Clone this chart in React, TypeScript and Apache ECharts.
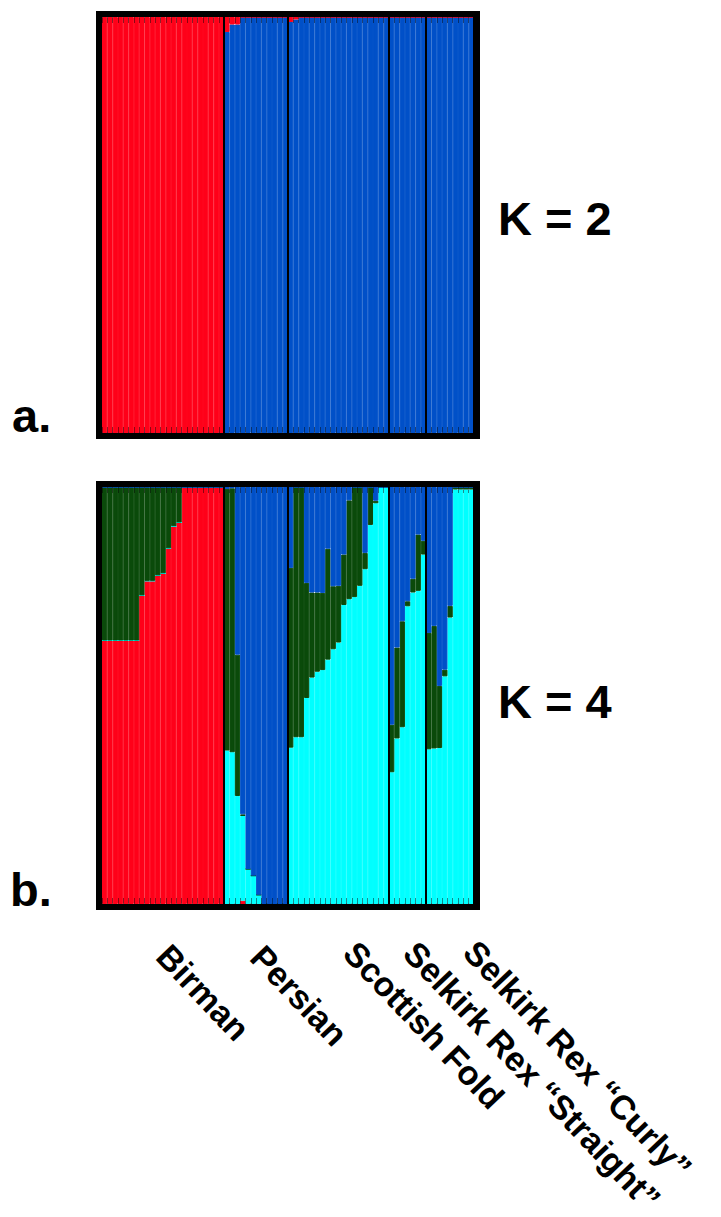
import React, { useEffect, useRef } from "react";
import * as echarts from "echarts";

// ---------- data ----------
const groups = ["Birman", "Persian", "Scottish Fold", "Selkirk Rex “Straight”", "Selkirk Rex “Curly”"];
const groupSizes = [23, 12, 19, 7, 9];

// K = 2 memberships (cluster order bottom -> top: blue, red)
const k2Blue = [
  0, 0, 0, 0, 0, 0, 0, 0, 0, 0, 0, 0, 0, 0, 0, 0, 0, 0, 0, 0, 0, 0, 0,
  0.964, 0.982, 0.982, 1, 1, 1, 1, 1, 1, 1, 1, 1,
  0.988, 0.994, 1, 1, 1, 1, 1, 1, 1, 1, 1, 1, 1, 1, 1, 1, 1, 1, 1,
  1, 1, 1, 1, 1, 1, 1,
  1, 1, 1, 1, 1, 1, 1, 1, 1,
];
const k2Red = [
  1, 1, 1, 1, 1, 1, 1, 1, 1, 1, 1, 1, 1, 1, 1, 1, 1, 1, 1, 1, 1, 1, 1,
  0.036, 0.018, 0.018, 0, 0, 0, 0, 0, 0, 0, 0, 0,
  0.012, 0.006, 0, 0, 0, 0, 0, 0, 0, 0, 0, 0, 0, 0, 0, 0, 0, 0, 0,
  0, 0, 0, 0, 0, 0, 0,
  0, 0, 0, 0, 0, 0, 0, 0, 0,
];

// K = 4 memberships (cluster order bottom -> top: red, cyan, green, blue)
const k4Red = [
  0.632, 0.632, 0.632, 0.632, 0.632, 0.632, 0.632, 0.74, 0.775, 0.775, 0.788, 0.793, 0.853, 0.906, 0.915, 1, 1, 1, 1, 1, 1, 1, 1,
  0, 0, 0, 0.008, 0, 0, 0, 0, 0, 0, 0, 0,
  0, 0, 0, 0, 0, 0, 0, 0, 0, 0, 0, 0, 0, 0, 0, 0, 0, 0, 0,
  0, 0, 0, 0, 0, 0, 0,
  0, 0, 0, 0, 0, 0, 0, 0, 0,
];
const k4Cyan = [
  0, 0, 0, 0, 0, 0, 0, 0, 0, 0, 0, 0, 0, 0, 0, 0, 0, 0, 0, 0, 0, 0, 0,
  0.368, 0.364, 0.259, 0.203, 0.084, 0.068, 0.022, 0, 0, 0, 0, 0,
  0.375, 0.4, 0.4, 0.494, 0.543, 0.557, 0.561, 0.586, 0.611, 0.627, 0.717, 0.731, 0.736, 0.763, 0.803, 0.909, 0.961, 1, 1,
  0.316, 0.397, 0.424, 0.714, 0.747, 0.751, 0.838,
  0.371, 0.373, 0.374, 0.546, 0.687, 0.994, 0.994, 0.994, 0.994,
];
const k4Green = [
  0.368, 0.368, 0.368, 0.368, 0.368, 0.368, 0.368, 0.26, 0.225, 0.225, 0.212, 0.207, 0.147, 0.094, 0.085, 0, 0, 0, 0, 0, 0, 0, 0,
  0.627, 0.633, 0.339, 0.004, 0, 0, 0, 0, 0, 0, 0, 0,
  0.431, 0.6, 0.6, 0.276, 0.204, 0.19, 0.185, 0.266, 0.151, 0.136, 0.121, 0.237, 0.264, 0.237, 0.039, 0.091, 0.006, 0, 0,
  0.114, 0.218, 0.254, 0.012, 0.033, 0.135, 0.033,
  0.279, 0.294, 0.149, 0.016, 0.028, 0.006, 0.006, 0.006, 0.006,
];
const k4Blue = [
  0, 0, 0, 0, 0, 0, 0, 0, 0, 0, 0, 0, 0, 0, 0, 0, 0, 0, 0, 0, 0, 0, 0,
  0.005, 0.003, 0.402, 0.785, 0.916, 0.932, 0.978, 1, 1, 1, 1, 1,
  0.194, 0, 0, 0.23, 0.253, 0.253, 0.254, 0.148, 0.238, 0.237, 0.162, 0.032, 0, 0, 0.158, 0, 0.033, 0, 0,
  0.57, 0.385, 0.322, 0.274, 0.22, 0.114, 0.129,
  0.35, 0.333, 0.477, 0.438, 0.285, 0, 0, 0, 0,
];

const panelLabels = ["a.", "b."];
const kLabels = ["K = 2", "K = 4"];

// ---------- derived ----------
const individuals: string[] = [];
groupSizes.forEach((n, g) => {
  for (let k = 1; k <= n; k++) individuals.push(groups[g] + " " + k);
});
const boundaries: number[] = [];
{
  let acc = 0;
  for (let g = 0; g < groupSizes.length - 1; g++) {
    acc += groupSizes[g];
    boundaries.push(acc);
  }
}

// ---------- layout / style ----------
const COLORS = { red: "#FF0019", blue: "#0050C8", green: "#0A4A0A", cyan: "#00FFFF" };
const GRID_LEFT = 102;
const GRID_WIDTH = 372;
const GRIDS = [
  { top: 17, height: 416 },
  { top: 487, height: 417 },
];
const FRAME_W = 6;
const kLabelPos = [
  { x: 498, y: 218 },
  { x: 498, y: 701 },
];
const panelLabelPos = [
  { x: 12, y: 415 },
  { x: 10, y: 889 },
];
const groupLabelPos = [
  { x: 163, y: 950 },
  { x: 257, y: 951 },
  { x: 350, y: 947 },
  { x: 410, y: 947 },
  { x: 470, y: 946 },
];
const GROUP_LABEL_ANGLE = -46.5;

function makeXAxes(gridIndex: number) {
  const base = {
    type: "category" as const,
    gridIndex,
    data: individuals,
    boundaryGap: true,
    z: 5,
    axisLine: { show: false },
    axisLabel: { show: false },
    axisTick: {
      show: true,
      inside: true,
      length: 6,
      interval: 0,
      lineStyle: { color: "rgba(0,0,0,0.45)", width: 1 },
    },
  };
  return [
    {
      ...base,
      position: "bottom",
      splitLine: {
        show: true,
        interval: (i: number) => boundaries.indexOf(i) >= 0,
        lineStyle: { color: "#000", width: 2 },
      },
    },
    { ...base, position: "top", splitLine: { show: false } },
  ];
}

function barSeries(name: string, data: number[], color: string, xAxisIndex: number, yAxisIndex: number, stack: string) {
  return {
    name,
    type: "bar",
    stack,
    data,
    xAxisIndex,
    yAxisIndex,
    barCategoryGap: "0%",
    itemStyle: { color, borderColor: color, borderWidth: 1 },
    emphasis: { disabled: true },
    silent: true,
  };
}

export default function App() {
  const ref = useRef<HTMLDivElement>(null);
  useEffect(() => {
    if (!ref.current) return;
    const chart = echarts.init(ref.current, null, { renderer: "svg" });
    const font = '"Liberation Sans", Arial, Helvetica, sans-serif';
    const graphic: any[] = [];
    GRIDS.forEach((g, i) => {
      graphic.push({
        type: "rect",
        z: 100,
        silent: true,
        shape: {
          x: GRID_LEFT - FRAME_W / 2,
          y: g.top - FRAME_W / 2,
          width: GRID_WIDTH + FRAME_W,
          height: g.height + FRAME_W,
        },
        style: { fill: "none", stroke: "#000", lineWidth: FRAME_W },
      });
      graphic.push({
        type: "text",
        z: 100,
        x: kLabelPos[i].x,
        y: kLabelPos[i].y,
        style: {
          text: kLabels[i],
          font: "bold 47px " + font,
          fill: "#000",
          align: "left",
          verticalAlign: "middle",
        },
      });
      graphic.push({
        type: "text",
        z: 100,
        x: panelLabelPos[i].x,
        y: panelLabelPos[i].y,
        style: {
          text: panelLabels[i],
          font: "bold 47px " + font,
          fill: "#000",
          align: "left",
          verticalAlign: "middle",
        },
      });
    });
    groups.forEach((name, i) => {
      graphic.push({
        type: "text",
        z: 100,
        x: groupLabelPos[i].x,
        y: groupLabelPos[i].y,
        rotation: (GROUP_LABEL_ANGLE * Math.PI) / 180,
        style: {
          text: name,
          font: "bold 34px " + font,
          fill: "#000",
          align: "left",
          verticalAlign: "middle",
        },
      });
    });

    chart.setOption({
      animation: false,
      backgroundColor: "#ffffff",
      grid: GRIDS.map((g) => ({ left: GRID_LEFT, width: GRID_WIDTH, top: g.top, height: g.height, show: false })),
      xAxis: [...makeXAxes(0), ...makeXAxes(1)],
      yAxis: [0, 1].map((gi) => ({
        type: "value",
        gridIndex: gi,
        min: 0,
        max: 1,
        show: false,
        splitLine: { show: false },
      })),
      series: [
        barSeries("K2 cluster blue", k2Blue, COLORS.blue, 0, 0, "k2"),
        barSeries("K2 cluster red", k2Red, COLORS.red, 0, 0, "k2"),
        barSeries("K4 cluster red", k4Red, COLORS.red, 2, 1, "k4"),
        barSeries("K4 cluster cyan", k4Cyan, COLORS.cyan, 2, 1, "k4"),
        barSeries("K4 cluster green", k4Green, COLORS.green, 2, 1, "k4"),
        barSeries("K4 cluster blue", k4Blue, COLORS.blue, 2, 1, "k4"),
      ],
      graphic,
    });
    return () => chart.dispose();
  }, []);
  return (
    <div
      ref={ref}
      style={{ position: "fixed", left: 0, top: 0, width: 721, height: 1217, background: "#fff" }}
    />
  );
}
